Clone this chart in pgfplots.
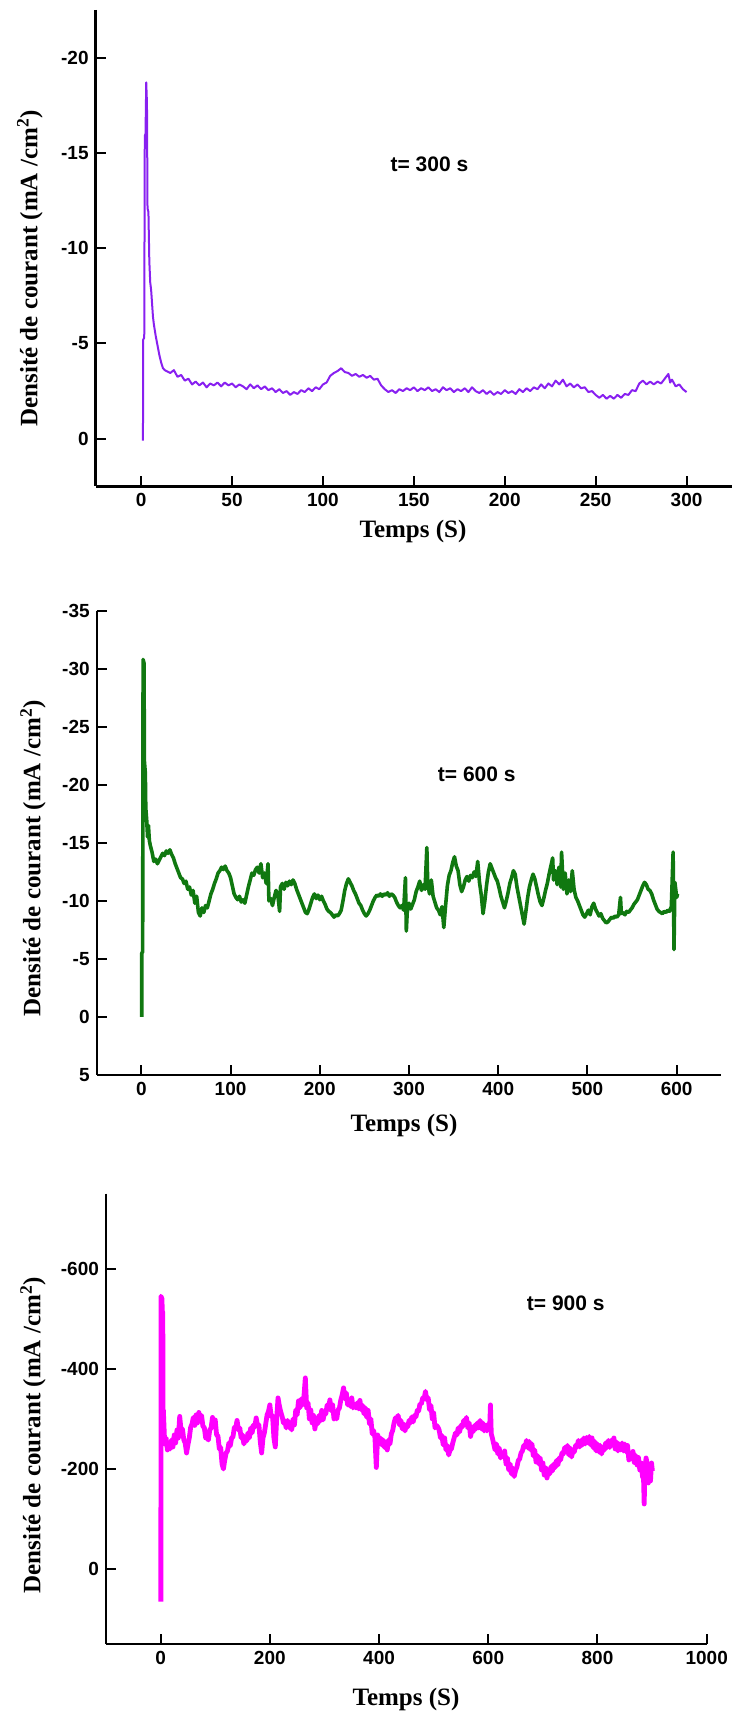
\documentclass[border=0pt]{standalone}
\usepackage{fontspec}
\setmainfont{Liberation Serif}
\setsansfont{Liberation Sans}
\usepackage{pgfplots}
\pgfplotsset{compat=1.18}
\definecolor{cpurple}{RGB}{136,32,240}
\definecolor{cgreen}{RGB}{16,120,16}
\definecolor{cmagenta}{RGB}{255,0,255}
\pgfplotsset{
  chrono/.style={
    scale only axis,
    anchor=south west,
    axis x line=bottom, axis y line=left,
    axis line style={-, line width=1.2pt},
    tick align=inside,
    major tick length=5pt,
    tick style={line width=1pt, black},
    y dir=reverse,
    /pgf/number format/assume math mode=true,
    /pgf/number format/1000 sep={},
    ticklabel style={font=\sffamily\bfseries\fontsize{9.5}{11}\selectfont},
    label style={font=\rmfamily\bfseries\fontsize{12.5}{14}\selectfont},
    xlabel={Temps (S)},
    ylabel={Densité de courant (mA /cm\textsuperscript{2})},
  }
}
\begin{document}
\begin{tikzpicture}
\useasboundingbox (0,0) rectangle (366pt,856pt);
% ---------------- t = 300 s
\begin{axis}[chrono, at={(47.85pt,612.8pt)}, width=318.15pt, height=238.2pt,
  xmin=-25, xmax=325, ymin=-22.5, ymax=2.5,
  xtick={0,50,...,300}, ytick={-20,-15,-10,-5,0},
  xlabel style={at={(axis description cs:0.4987,-0.0957)}, anchor=center},
  ylabel style={at={(axis description cs:-0.1033,0.458)}, anchor=center}]
\addplot[cpurple, line width=1pt, line join=round] table[row sep=\\] {
t v\\ 1.0 0.1\\ 1.1 -5.2\\ 1.7 -5.3\\ 2.0 -15.9\\ 2.4 -16.0\\ 2.8 -18.7\\ 3.2 -17.6\\ 3.5 -12.1\\ 4.0 -11.9\\ 4.5 -9.3\\
5.0 -8.2\\ 5.5 -7.8\\ 6.0 -7.1\\ 6.5 -6.4\\ 7.0 -6.0\\ 8.0 -5.4\\ 9.0 -4.9\\ 10 -4.4\\ 11 -4.0\\ 12 -3.7\\ 13 -3.6\\
14 -3.55\\ 16 -3.45\\ 18 -3.60\\ 20 -3.25\\ 22 -3.35\\ 24 -3.05\\ 26 -3.15\\ 28 -2.85\\ 30 -3.00\\ 32 -2.80\\
34 -2.95\\ 36 -2.70\\ 38 -2.90\\ 40 -2.80\\ 42 -2.95\\ 44 -2.75\\ 46 -2.95\\ 48 -2.80\\ 50 -2.90\\ 52 -2.70\\
54 -2.85\\ 56 -2.75\\ 58 -2.60\\ 60 -2.85\\ 62 -2.65\\ 64 -2.80\\ 66 -2.60\\ 68 -2.75\\ 70 -2.55\\ 72 -2.65\\
74 -2.45\\ 76 -2.60\\ 78 -2.40\\ 80 -2.50\\ 82 -2.30\\ 84 -2.45\\ 86 -2.35\\ 88 -2.55\\ 90 -2.45\\ 92 -2.65\\
94 -2.50\\ 96 -2.70\\ 98 -2.60\\ 100 -2.85\\ 102 -2.95\\ 104 -3.30\\ 106 -3.45\\ 108 -3.55\\ 110 -3.70\\ 112 -3.50\\
114 -3.45\\ 116 -3.30\\ 118 -3.40\\ 120 -3.25\\ 122 -3.35\\ 124 -3.20\\ 126 -3.30\\ 128 -3.10\\ 130 -3.15\\ 132 -2.80\\
134 -2.60\\ 136 -2.45\\ 138 -2.55\\ 140 -2.40\\ 142 -2.60\\ 144 -2.50\\ 146 -2.65\\ 148 -2.55\\ 150 -2.70\\ 152 -2.50\\
154 -2.65\\ 156 -2.55\\ 158 -2.70\\ 160 -2.50\\ 162 -2.60\\ 164 -2.45\\ 166 -2.70\\ 168 -2.55\\ 170 -2.65\\ 172 -2.45\\
174 -2.60\\ 176 -2.50\\ 178 -2.65\\ 180 -2.45\\ 182 -2.70\\ 184 -2.50\\ 186 -2.40\\ 188 -2.55\\ 190 -2.35\\ 192 -2.50\\
194 -2.30\\ 196 -2.45\\ 198 -2.35\\ 200 -2.55\\ 202 -2.40\\ 204 -2.50\\ 206 -2.35\\ 208 -2.60\\ 210 -2.45\\ 212 -2.65\\
214 -2.50\\ 216 -2.70\\ 218 -2.60\\ 220 -2.85\\ 222 -2.65\\ 224 -2.90\\ 226 -2.75\\ 228 -3.05\\ 230 -2.85\\ 232 -3.10\\
234 -2.75\\ 236 -2.90\\ 238 -2.70\\ 240 -2.85\\ 242 -2.65\\ 244 -2.70\\ 246 -2.45\\ 248 -2.50\\ 250 -2.30\\ 252 -2.15\\
254 -2.30\\ 256 -2.10\\ 258 -2.25\\ 260 -2.10\\ 262 -2.30\\ 264 -2.15\\ 266 -2.35\\ 268 -2.30\\ 270 -2.55\\ 272 -2.50\\
274 -2.90\\ 276 -3.05\\ 278 -2.85\\ 280 -3.00\\ 282 -2.85\\ 284 -3.00\\ 286 -2.90\\ 288 -3.15\\ 290 -3.40\\ 291 -2.95\\
292 -3.10\\ 294 -2.75\\ 296 -2.85\\ 298 -2.60\\ 300 -2.45\\
};
\node[font=\sffamily\bfseries\fontsize{10.5}{12}\selectfont] at (axis cs:158.6,-14.4) {t= 300 s};
\end{axis}
% ---------------- t = 600 s
\begin{axis}[chrono, at={(48.35pt,318.5pt)}, width=312.3pt, height=232.15pt,
  xmin=-50, xmax=650, ymin=-35, ymax=5,
  xtick={0,100,...,600}, ytick={-35,-30,...,5},
  xlabel style={at={(axis description cs:0.492,-0.1077)}, anchor=center},
  ylabel style={at={(axis description cs:-0.102,0.467)}, anchor=center}]
\addplot[cgreen, line width=1.8pt, line join=round] table[row sep=\\] {
t v\\ 0.5 0\\ 0.5 -5.5\\ 1.5 -5.6\\ 2 -30.8\\ 3 -30.5\\ 3.5 -22\\ 4.5 -21\\ 5 -18\\ 6 -17\\ 7 -15.5\\ 8 -16.5\\ 9 -15.2\\
10 -14.8\\ 12 -14.2\\ 14 -13.4\\ 16 -13.6\\ 18 -13.2\\ 20 -13.5\\ 22 -13.8\\ 24 -14.1\\ 26 -13.9\\ 28 -14.3\\ 30 -14.1\\
32 -14.4\\ 34 -14.0\\ 36 -13.7\\ 38 -13.2\\ 40 -12.8\\ 42 -12.4\\ 44 -12.0\\ 46 -11.9\\ 48 -11.5\\ 50 -11.7\\ 52 -11.0\\
54 -11.2\\ 56 -10.5\\ 58 -10.9\\ 60 -9.8\\ 62 -10.4\\ 64 -9.0\\ 66 -8.7\\ 68 -9.4\\ 70 -9.0\\ 72 -9.6\\ 74 -9.4\\
76 -10.0\\ 78 -10.6\\ 80 -11.0\\ 82 -11.5\\ 84 -11.9\\ 86 -12.4\\ 88 -12.6\\ 90 -12.9\\ 92 -12.7\\ 94 -13.0\\ 96 -12.6\\
98 -12.4\\ 100 -12.0\\ 102 -11.3\\ 104 -10.6\\ 106 -10.3\\ 108 -10.1\\ 110 -10.4\\ 112 -9.9\\ 114 -10.1\\ 116 -9.8\\
118 -10.5\\ 120 -11.2\\ 122 -11.8\\ 124 -12.4\\ 126 -12.2\\ 128 -12.7\\ 130 -12.9\\ 132 -12.4\\ 134 -13.2\\ 136 -12.0\\
138 -12.4\\ 140 -11.5\\ 142 -13.2\\ 143 -10.0\\ 145 -10.2\\ 147 -9.6\\ 149 -10.3\\ 151 -10.9\\ 153 -10.5\\ 155 -9.1\\
156 -11.2\\ 158 -11.5\\ 160 -11.0\\ 162 -11.6\\ 164 -11.3\\ 166 -11.7\\ 168 -11.4\\ 170 -11.8\\ 172 -11.5\\ 174 -11.0\\
176 -10.6\\ 178 -10.2\\ 180 -9.8\\ 182 -9.4\\ 184 -9.0\\ 186 -8.9\\ 188 -9.3\\ 190 -9.8\\ 192 -10.3\\ 194 -10.6\\
196 -10.2\\ 198 -10.5\\ 200 -10.1\\ 202 -10.4\\ 204 -10.0\\ 206 -9.7\\ 208 -9.3\\ 210 -9.1\\ 212 -9.0\\ 214 -8.8\\
216 -8.6\\ 218 -8.8\\ 220 -8.7\\ 222 -8.9\\ 224 -9.2\\ 226 -10.0\\ 228 -10.9\\ 230 -11.5\\ 232 -11.9\\ 234 -11.6\\
236 -11.3\\ 238 -10.9\\ 240 -10.6\\ 242 -10.2\\ 244 -9.8\\ 246 -9.6\\ 248 -9.2\\ 250 -8.9\\ 252 -8.7\\ 254 -8.9\\
256 -9.2\\ 258 -9.6\\ 260 -10.0\\ 262 -10.3\\ 264 -10.5\\ 266 -10.4\\ 268 -10.6\\ 270 -10.4\\ 272 -10.6\\ 274 -10.5\\
276 -10.7\\ 278 -10.4\\ 280 -10.6\\ 282 -10.5\\ 284 -10.3\\ 286 -9.9\\ 288 -9.6\\ 290 -9.4\\ 292 -9.6\\ 294 -9.2\\
296 -12.0\\ 297 -7.4\\ 298 -9.0\\ 300 -9.8\\ 302 -9.3\\ 304 -9.7\\ 306 -10.1\\ 308 -10.8\\ 310 -11.2\\ 312 -11.7\\
314 -10.9\\ 316 -11.4\\ 318 -11.0\\ 320 -14.6\\ 321 -11.5\\ 323 -10.6\\ 325 -11.8\\ 327 -10.4\\ 329 -9.9\\ 331 -9.4\\
333 -9.2\\ 335 -8.8\\ 337 -9.5\\ 339 -7.7\\ 341 -9.6\\ 343 -11.3\\ 345 -12.2\\ 347 -12.6\\ 349 -13.3\\ 351 -13.8\\
353 -13.0\\ 355 -12.6\\ 357 -11.4\\ 359 -10.8\\ 361 -11.2\\ 363 -11.8\\ 365 -12.1\\ 367 -11.7\\ 369 -12.2\\ 371 -12.0\\
373 -12.5\\ 375 -12.1\\ 377 -13.4\\ 379 -11.6\\ 381 -10.5\\ 383 -8.9\\ 385 -10.0\\ 387 -11.4\\ 389 -12.5\\ 391 -13.2\\
393 -12.8\\ 395 -12.4\\ 397 -12.0\\ 399 -11.7\\ 401 -11.1\\ 403 -10.4\\ 405 -9.9\\ 407 -9.4\\ 409 -10.0\\ 411 -10.7\\
413 -11.5\\ 415 -12.0\\ 417 -12.6\\ 419 -12.3\\ 421 -11.2\\ 423 -10.4\\ 425 -9.6\\ 427 -8.8\\ 429 -8.0\\ 431 -9.1\\
433 -10.3\\ 435 -11.2\\ 437 -11.8\\ 439 -12.3\\ 441 -11.9\\ 443 -11.2\\ 445 -10.5\\ 447 -9.9\\ 449 -9.6\\ 451 -10.2\\
453 -10.9\\ 455 -11.5\\ 457 -12.3\\ 459 -13.0\\ 461 -13.7\\ 462 -11.8\\ 464 -12.6\\ 466 -11.4\\ 468 -12.9\\ 470 -11.2\\
471 -14.2\\ 473 -11.0\\ 475 -12.4\\ 477 -10.6\\ 479 -11.8\\ 481 -10.8\\ 483 -12.6\\ 485 -11.0\\ 487 -10.3\\ 489 -10.0\\
491 -9.6\\ 493 -9.2\\ 495 -8.8\\ 497 -8.6\\ 499 -8.9\\ 501 -9.2\\ 503 -8.8\\ 505 -9.5\\ 507 -9.8\\ 509 -9.3\\
511 -9.0\\ 513 -8.7\\ 515 -8.9\\ 517 -8.5\\ 519 -8.3\\ 521 -8.1\\ 523 -8.2\\ 525 -8.4\\ 527 -8.6\\ 529 -8.5\\
531 -8.7\\ 533 -8.6\\ 535 -8.8\\ 537 -10.3\\ 538 -8.9\\ 540 -9.0\\ 542 -8.8\\ 544 -9.1\\ 546 -9.0\\ 548 -9.2\\
550 -9.4\\ 552 -9.7\\ 554 -9.9\\ 556 -10.1\\ 558 -10.5\\ 560 -10.9\\ 562 -11.3\\ 564 -11.6\\ 566 -11.4\\ 568 -11.0\\
570 -10.9\\ 572 -10.6\\ 574 -10.1\\ 576 -9.7\\ 578 -9.3\\ 580 -9.1\\ 582 -9.0\\ 584 -8.9\\ 586 -9.1\\ 588 -9.0\\
590 -9.2\\ 592 -9.1\\ 594 -9.5\\ 596 -14.2\\ 597 -5.8\\ 598 -11.6\\ 600 -10.3\\ 601 -10.6\\
};
\node[font=\sffamily\bfseries\fontsize{10.5}{12}\selectfont] at (axis cs:376,-20.9) {t= 600 s};
\end{axis}
% ---------------- t = 900 s
\begin{axis}[chrono, at={(53pt,33.9pt)}, width=300.35pt, height=225.3pt,
  xmin=-100, xmax=1000, ymin=-750, ymax=150,
  xtick={0,200,...,1000}, ytick={-600,-400,-200,0},
  xlabel style={at={(axis description cs:0.4994,-0.1216)}, anchor=center},
  ylabel style={at={(axis description cs:-0.1215,0.464)}, anchor=center}]
\addplot[cmagenta, line width=2.4pt, line join=round] table[row sep=\\] {
t v\\ 0.5 65\\ 0.6 -545\\ 2.5 -540\\ 3.0 -515\\ 4.0 -513\\ 4.5 -300\\ 5 -318\\ 7.5 -250\\ 10 -262\\ 12.5 -238\\
15 -252\\ 17.5 -240\\ 20 -258\\ 22.5 -244\\ 25 -268\\ 27.5 -252\\ 30 -278\\ 32.5 -262\\ 35 -305\\ 37.5 -276\\
40 -280\\ 42.5 -258\\ 45 -252\\ 47.5 -232\\ 50 -248\\ 52.5 -262\\ 55 -283\\ 57.5 -290\\ 60 -303\\ 62.5 -287\\
65 -308\\ 67.5 -292\\ 70 -313\\ 72.5 -296\\ 75 -307\\ 77.5 -285\\ 80 -283\\ 82.5 -262\\ 85 -262\\ 87.5 -258\\
90 -278\\ 92.5 -282\\ 95 -303\\ 97.5 -287\\ 100 -298\\ 102.5 -268\\ 105 -266\\ 107.5 -240\\ 110 -243\\ 112.5 -210\\
115 -200\\ 117.5 -218\\ 120 -232\\ 122.5 -236\\ 125 -252\\ 127.5 -246\\ 130 -262\\ 132.5 -264\\ 135 -283\\ 137.5 -282\\
140 -297\\ 142.5 -278\\ 145 -282\\ 147.5 -262\\ 150 -268\\ 152.5 -250\\ 155 -262\\ 157.5 -256\\ 160 -272\\ 162.5 -262\\
165 -282\\ 167.5 -272\\ 170 -288\\ 172.5 -284\\ 175 -302\\ 177.5 -286\\ 180 -288\\ 182.5 -255\\ 185 -232\\ 187.5 -262\\
190 -272\\ 192.5 -290\\ 195 -308\\ 197.5 -315\\ 200 -328\\ 202.5 -305\\ 205 -306\\ 207.5 -262\\ 210 -244\\ 212.5 -300\\
215 -342\\ 217.5 -326\\ 220 -314\\ 222.5 -305\\ 225 -292\\ 227.5 -296\\ 230 -282\\ 232.5 -297\\ 235 -283\\ 237.5 -290\\
240 -278\\ 242.5 -300\\ 245 -288\\ 247.5 -318\\ 250 -308\\ 252.5 -336\\ 255 -322\\ 257.5 -340\\ 260 -328\\ 262.5 -345\\
265 -382\\ 267.5 -322\\ 270 -332\\ 272.5 -300\\ 275 -318\\ 277.5 -292\\ 280 -307\\ 282.5 -280\\ 285 -298\\ 287.5 -290\\
290 -307\\ 292.5 -296\\ 295 -317\\ 297.5 -298\\ 300 -312\\ 302.5 -310\\ 305 -328\\ 307.5 -322\\ 310 -338\\ 312.5 -316\\
315 -328\\ 317.5 -300\\ 320 -312\\ 322.5 -300\\ 325 -318\\ 327.5 -322\\ 330 -338\\ 332.5 -348\\ 335 -362\\ 337.5 -340\\
340 -352\\ 342.5 -328\\ 345 -337\\ 347.5 -325\\ 350 -342\\ 352.5 -322\\ 355 -328\\ 357.5 -322\\ 360 -332\\ 362.5 -320\\
365 -337\\ 367.5 -318\\ 370 -327\\ 372.5 -310\\ 375 -322\\ 377.5 -303\\ 380 -317\\ 382.5 -290\\ 385 -300\\ 387.5 -270\\
390 -277\\ 392.5 -262\\ 395 -203\\ 397.5 -268\\ 400 -252\\ 402.5 -262\\ 405 -248\\ 407.5 -258\\ 410 -243\\ 412.5 -254\\
415 -238\\ 417.5 -258\\ 420 -250\\ 422.5 -270\\ 425 -277\\ 427.5 -292\\ 430 -302\\ 432.5 -300\\ 435 -307\\ 437.5 -288\\
440 -297\\ 442.5 -280\\ 445 -290\\ 447.5 -276\\ 450 -288\\ 452.5 -284\\ 455 -297\\ 457.5 -292\\ 460 -304\\ 462.5 -294\\
465 -307\\ 467.5 -304\\ 470 -317\\ 472.5 -316\\ 475 -330\\ 477.5 -330\\ 480 -342\\ 482.5 -340\\ 485 -355\\ 487.5 -338\\
490 -342\\ 492.5 -318\\ 495 -327\\ 497.5 -300\\ 500 -312\\ 502.5 -282\\ 505 -287\\ 507.5 -284\\ 510 -278\\ 512.5 -262\\
515 -267\\ 517.5 -248\\ 520 -262\\ 522.5 -238\\ 525 -247\\ 527.5 -228\\ 530 -238\\ 532.5 -240\\ 535 -252\\ 537.5 -262\\
540 -272\\ 542.5 -268\\ 545 -282\\ 547.5 -274\\ 550 -287\\ 552.5 -284\\ 555 -297\\ 557.5 -290\\ 560 -303\\ 562.5 -282\\
565 -292\\ 567.5 -265\\ 570 -277\\ 572.5 -275\\ 575 -287\\ 577.5 -280\\ 580 -292\\ 582.5 -282\\ 585 -297\\ 587.5 -280\\
590 -292\\ 592.5 -276\\ 595 -287\\ 597.5 -276\\ 600 -290\\ 602.5 -280\\ 604 -328\\ 605.5 -270\\ 607.5 -262\\ 610 -250\\
612.5 -238\\ 615 -250\\ 617.5 -230\\ 620 -242\\ 622.5 -222\\ 625 -232\\ 627.5 -224\\ 630 -236\\ 632.5 -210\\ 635 -222\\
637.5 -198\\ 640 -210\\ 642.5 -190\\ 645 -202\\ 647.5 -185\\ 650 -197\\ 652.5 -204\\ 655 -217\\ 657.5 -220\\ 660 -232\\
662.5 -236\\ 665 -247\\ 667.5 -244\\ 670 -257\\ 672.5 -242\\ 675 -255\\ 677.5 -238\\ 680 -250\\ 682.5 -226\\ 685 -238\\
687.5 -214\\ 690 -227\\ 692.5 -210\\ 695 -222\\ 697.5 -198\\ 700 -212\\ 702.5 -188\\ 705 -202\\ 707.5 -182\\ 710 -197\\
712.5 -190\\ 715 -205\\ 717.5 -196\\ 720 -210\\ 722.5 -203\\ 725 -217\\ 727.5 -208\\ 730 -222\\ 732.5 -218\\ 735 -232\\
737.5 -230\\ 740 -243\\ 742.5 -234\\ 745 -247\\ 747.5 -228\\ 750 -242\\ 752.5 -224\\ 755 -237\\ 757.5 -234\\ 760 -247\\
762.5 -244\\ 765 -257\\ 767.5 -244\\ 770 -257\\ 772.5 -248\\ 775 -262\\ 777.5 -250\\ 780 -263\\ 782.5 -252\\ 785 -265\\
787.5 -248\\ 790 -262\\ 792.5 -242\\ 795 -255\\ 797.5 -236\\ 800 -250\\ 802.5 -234\\ 805 -247\\ 807.5 -230\\ 810 -243\\
812.5 -238\\ 815 -252\\ 817.5 -243\\ 820 -257\\ 822.5 -243\\ 825 -257\\ 827.5 -248\\ 830 -262\\ 832.5 -240\\ 835 -254\\
837.5 -236\\ 840 -250\\ 842.5 -238\\ 845 -252\\ 847.5 -236\\ 850 -250\\ 852.5 -234\\ 855 -247\\ 857.5 -218\\ 860 -232\\
862.5 -220\\ 865 -235\\ 867.5 -213\\ 870 -227\\ 872.5 -208\\ 875 -223\\ 877.5 -198\\ 880 -212\\ 882.5 -184\\ 884 -197\\
885.5 -130\\ 887 -205\\ 889 -222\\ 891 -210\\ 893 -172\\ 895 -205\\ 897 -176\\ 899 -212\\ 900.5 -196\\
};
\node[font=\sffamily\bfseries\fontsize{10.5}{12}\selectfont] at (axis cs:742,-530) {t= 900 s};
\end{axis}
\end{tikzpicture}
\end{document}
